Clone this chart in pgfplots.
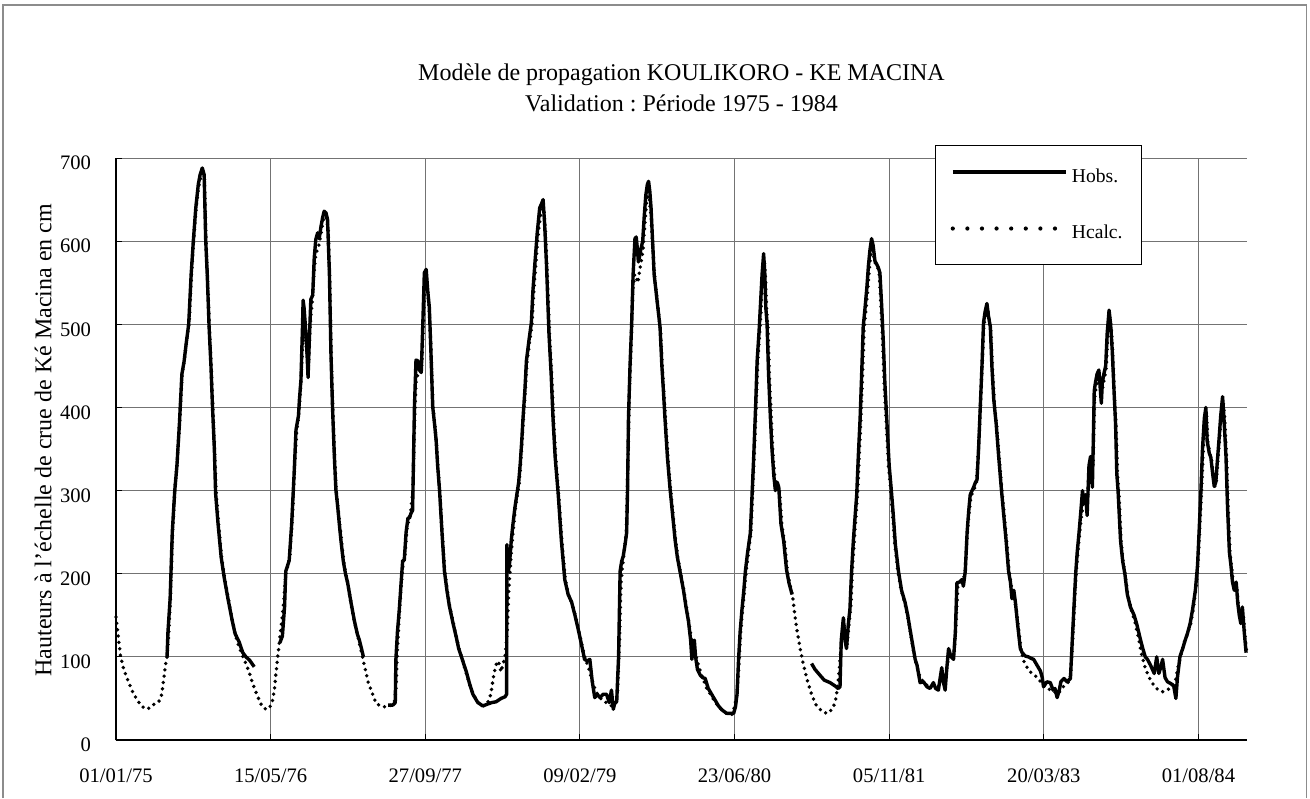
\documentclass[border=0pt]{standalone}
\usepackage{fontspec}
\setmainfont{Liberation Serif}
\usepackage{pgfplots}
\pgfplotsset{compat=1.18}
\frenchspacing
\begin{document}
\begin{tikzpicture}
\path[use as bounding box] (0,0) rectangle (655pt,399pt);
\draw[black!45, line width=0.6pt] (1.5pt,0) -- (1.5pt,396.5pt) -- (653.3pt,396.5pt) -- (653.3pt,0);
\begin{axis}[
 at={(58pt,29pt)}, anchor=south west,
 scale only axis, width=565.5pt, height=291pt,
 xmin=0, xmax=3657, ymin=0, ymax=700,
 axis x line*=bottom, axis y line*=left,
 axis line style={-, line width=1.4pt, black},
 xtick={0,500,...,3500},
 xticklabels={01/01/75,15/05/76,27/09/77,09/02/79,23/06/80,05/11/81,20/03/83,01/08/84},
 ytick={0,100,...,700},
 grid=major, major grid style={black!55, line width=0.5pt},
 tick style={black, line width=0.5pt}, major tick length=3pt, tick align=inside,
 /pgf/number format/assume math mode=true,
 ticklabel style={font=\fontsize{10.3}{12}\selectfont},
 xticklabel style={yshift=-11pt},
 yticklabel style={xshift=-9pt, yshift=-2.5pt},
 every axis y label/.style={at={(axis description cs:-0.0645,0.515)}, rotate=90, anchor=center, font=\fontsize{12}{14}\selectfont},
 ylabel={Hauteurs à l'échelle de crue de Ké Macina en cm},
 legend style={at={(axis description cs:0.7241,1.0223)}, anchor=north west, draw=black, line width=0.6pt, fill=white, font=\fontsize{9.8}{11}\selectfont, inner xsep=7.5pt, inner ysep=9.5pt, row sep=16pt},
 legend cell align=left,
 legend image code/.code={\draw[#1] (0pt,2.5pt) -- (56.5pt,2.5pt);},
 clip=false,
]
% Hcalc
\addplot[forget plot, black, line width=1.9pt, dash pattern=on 0pt off 3.2pt, line cap=round] coordinates {
(0,148) (8,122) (15,100) (25,85) (40,70) (55,57) (70,47) (85,40) (100,37) (115,40) (128,45) (140,47) (148,55) (155,75) (160,90) (165,100) (170,125) (176,170) (183,250) (190,300) (198,335) (206,385) (214,440) (222,460) (230,485) (237,505) (244,560) (251,600) (259,640) (267,665) (273,675) (280,682) (286,675) (291,600) (296,555) (302,495) (308,448) (313,400) (319,348) (324,297) (332,258) (342,218) (352,193) (364,168) (376,143) (387,125) (398,112) (410,100) (420,92) (432,80) (441,69) (452,58) (463,48) (473,40) (485,37) (495,38) (505,45) (512,60) (517,80) (523,100) (528,117) (535,140) (542,165) (549,200) (556,210) (562,220) (570,265) (577,325) (584,370) (592,395) (598,430) (604,480) (610,490) (616,470) (622,450) (628,500) (634,525) (640,560) (646,585) (652,590) (658,598) (664,612) (670,625) (675,630) (680,628) (686,615) (691,555) (696,462) (701,398) (707,340) (712,300) (718,278) (724,258) (729,240) (737,213) (744,198) (751,185) (762,160) (772,140) (782,125) (792,108) (803,90) (815,70) (830,55) (841,44) (860,40) (877,40) (890,42) (900,45) (905,60) (910,110) (916,150) (922,185) (928,210) (935,225) (941,255) (947,265) (953,275) (960,300) (966,390) (970,430) (976,440) (982,440) (988,445) (993,490) (998,540) (1003,556) (1008,540) (1013,515) (1019,465) (1025,400) (1031,378) (1036,358) (1041,328) (1047,298) (1055,248) (1063,203) (1071,180) (1079,160) (1091,140) (1101,123) (1109,110) (1117,100) (1125,90) (1133,80) (1144,66) (1155,55) (1171,45) (1187,41) (1200,43) (1212,55) (1220,75) (1228,90) (1236,95) (1245,82) (1252,92) (1258,100) (1265,130) (1270,180) (1278,225) (1285,255) (1292,280) (1298,295) (1304,310) (1309,335) (1314,365) (1318,390) (1324,425) (1329,455) (1337,478) (1345,500) (1350,535) (1356,565) (1364,605) (1372,630) (1378,638) (1383,640) (1388,615) (1394,565) (1398,525) (1402,485) (1409,436) (1415,385) (1422,338) (1432,292) (1442,238) (1453,192) (1464,174) (1475,164) (1486,148) (1496,132) (1507,113) (1517,98) (1527,88) (1537,75) (1548,62) (1560,53) (1572,48) (1585,45) (1597,42) (1608,40) (1616,45) (1622,60) (1628,120) (1633,190) (1638,210) (1644,230) (1650,250) (1655,330) (1660,420) (1665,470) (1671,540) (1677,560) (1683,555) (1688,550) (1693,565) (1698,575) (1704,590) (1710,620) (1715,645) (1720,655) (1725,650) (1730,630) (1736,590) (1742,555) (1748,535) (1754,515) (1761,490) (1767,445) (1772,415) (1777,385) (1785,338) (1793,302) (1802,268) (1810,238) (1817,218) (1827,198) (1837,178) (1845,158) (1853,140) (1862,118) (1872,105) (1882,92) (1891,80) (1900,72) (1910,62) (1922,55) (1935,47) (1948,40) (1962,35) (1977,31) (1992,31) (2000,40) (2008,55) (2014,90) (2020,130) (2026,157) (2032,180) (2038,205) (2045,225) (2053,250) (2058,295) (2064,345) (2070,405) (2075,455) (2081,488) (2086,520) (2091,555) (2096,578) (2100,555) (2104,515) (2108,495) (2113,435) (2119,383) (2124,345) (2130,315) (2135,300) (2141,305) (2146,298) (2153,258) (2162,237) (2171,203) (2179,187) (2188,172) (2195,150) (2201,134) (2212,110) (2222,92) (2235,72) (2249,55) (2262,43) (2276,37) (2290,33) (2303,32) (2319,39) (2328,50) (2335,69) (2343,105) (2352,147) (2358,125) (2364,115) (2370,140) (2376,160) (2381,205) (2387,240) (2393,272) (2398,298) (2403,342) (2409,390) (2414,442) (2419,495) (2425,518) (2431,543) (2436,568) (2441,585) (2446,590) (2451,580) (2457,570) (2463,568) (2468,560) (2474,518) (2479,478) (2484,428) (2490,385) (2498,330) (2505,300) (2511,272) (2518,236) (2528,204) (2538,181) (2549,167) (2558,152) (2566,136) (2576,112) (2583,98) (2590,88) (2600,75) (2611,70) (2622,66) (2632,64) (2643,66) (2652,64) (2661,65) (2670,75) (2680,72) (2690,95) (2700,100) (2710,105) (2716,140) (2722,185) (2730,190) (2738,192) (2745,200) (2752,245) (2758,272) (2764,292) (2770,298) (2776,303) (2782,310) (2788,345) (2794,392) (2800,445) (2806,498) (2812,512) (2818,520) (2823,505) (2829,492) (2834,445) (2840,405) (2848,376) (2856,338) (2864,302) (2872,270) (2880,238) (2888,202) (2895,185) (2902,172) (2910,160) (2918,135) (2926,110) (2935,95) (2945,88) (2955,82) (2965,80) (2978,75) (2990,70) (3000,65) (3012,62) (3022,60) (3034,58) (3045,55) (3055,60) (3065,65) (3075,68) (3085,72) (3092,110) (3098,155) (3104,198) (3110,225) (3116,250) (3122,270) (3128,285) (3134,290) (3140,285) (3147,325) (3153,340) (3159,330) (3164,410) (3169,425) (3174,432) (3180,440) (3186,415) (3191,425) (3196,435) (3202,448) (3207,488) (3212,512) (3218,495) (3223,465) (3228,415) (3234,375) (3238,320) (3243,295) (3250,238) (3257,212) (3264,196) (3272,173) (3282,157) (3294,143) (3305,125) (3315,105) (3325,90) (3335,80) (3345,72) (3357,65) (3370,60) (3385,58) (3400,60) (3413,65) (3425,70) (3435,90) (3445,105) (3455,118) (3465,128) (3475,140) (3483,157) (3492,182) (3499,215) (3504,255) (3510,300) (3515,345) (3521,385) (3526,395) (3530,360) (3537,343) (3542,338) (3548,318) (3553,305) (3558,312) (3564,342) (3569,365) (3574,392) (3580,408) (3585,385) (3591,338) (3596,278) (3602,224) (3607,208) (3612,190) (3618,178) (3624,185) (3629,162) (3634,148) (3640,140) (3645,150) (3650,128) (3655,108)
};
% Hobs segments
\addplot[forget plot, black, line width=1.7pt, line join=round] coordinates {
(165,100) (168,130) (175,170) (182,250) (190,300) (197,330) (205,380) (213,440) (220,455) (228,480) (235,500) (243,560) (250,600) (258,640) (266,668) (272,680) (279,688) (285,680) (290,602) (295,560) (301,497) (307,450) (312,401) (318,350) (322,297) (330,260) (340,220) (350,195) (362,170) (375,145) (385,128) (398,118) (410,105) (420,100) (432,96) (447,88)
};
\addplot[forget plot, black, line width=1.7pt, line join=round] coordinates {
(530,117) (538,125) (545,160) (549,203) (555,210) (560,216) (568,260) (576,321) (582,373) (590,390) (593,409) (598,433) (603,497) (605,529) (608,520) (612,500) (617,470) (621,436) (625,480) (630,530) (636,535) (641,580) (646,602) (652,610) (657,603) (663,618) (668,628) (673,636) (679,634) (684,626) (690,562) (695,465) (700,401) (706,341) (711,301) (717,280) (722,260) (727,241) (735,215) (742,200) (749,189) (760,165) (771,143) (780,128) (787,120) (795,108) (800,100)
};
\addplot[forget plot, black, line width=1.7pt, line join=round] coordinates {
(880,42) (895,42) (903,45) (905,97) (910,130) (916,157) (922,190) (927,216) (932,216) (938,250) (944,267) (949,267) (954,273) (959,276) (965,401) (970,457) (976,456) (981,445) (987,442) (992,500) (997,562) (1003,566) (1008,540) (1013,521) (1018,470) (1024,401) (1030,380) (1035,361) (1040,330) (1046,301) (1054,250) (1062,203) (1070,180) (1078,161) (1090,140) (1100,124) (1108,110) (1116,101) (1124,92) (1132,83) (1143,68) (1154,55) (1170,45) (1186,41) (1200,43) (1215,45) (1229,46) (1245,50) (1258,52) (1263,55) (1264,235) (1268,203) (1272,210) (1278,240) (1283,258) (1290,280) (1296,295) (1302,310) (1307,332) (1312,360) (1316,387) (1322,420) (1327,456) (1335,480) (1343,502) (1348,540) (1354,571) (1362,610) (1370,640) (1376,645) (1381,650) (1386,620) (1392,571) (1396,530) (1400,488) (1407,440) (1413,387) (1420,340) (1430,295) (1440,240) (1451,193) (1462,175) (1473,166) (1484,150) (1494,134) (1505,115) (1515,97) (1525,95) (1532,97) (1540,70) (1548,51) (1556,55) (1565,51) (1575,55) (1586,55) (1595,45) (1602,60) (1608,37) (1613,45) (1619,46) (1622,74) (1625,100) (1630,203) (1635,215) (1640,221) (1646,235) (1651,249) (1654,300) (1657,387) (1662,450) (1667,497) (1672,560) (1678,603) (1682,605) (1686,590) (1689,575) (1692,580) (1697,590) (1703,600) (1708,630) (1713,655) (1718,668) (1722,672) (1726,660) (1730,640) (1735,600) (1740,560) (1746,540) (1752,520) (1759,497) (1765,450) (1770,420) (1775,387) (1783,340) (1791,304) (1800,270) (1808,240) (1815,220) (1825,200) (1835,180) (1843,160) (1851,143) (1858,120) (1862,97) (1866,118) (1870,120) (1874,100) (1880,85) (1889,78) (1897,75) (1905,74) (1915,62) (1926,55) (1937,48) (1948,41) (1960,36) (1975,32) (1990,32) (1997,32) (2003,40) (2008,55) (2011,80) (2013,97) (2018,130) (2024,157) (2030,180) (2035,203) (2042,225) (2051,249) (2056,290) (2062,341) (2068,400) (2073,456) (2079,490) (2084,525) (2089,560) (2094,585) (2098,560) (2101,520) (2105,502) (2110,440) (2116,387) (2121,350) (2127,318) (2132,300) (2138,310) (2143,304) (2150,260) (2159,239) (2168,205) (2176,189) (2186,175)
};
\addplot[forget plot, black, line width=1.7pt, line join=round] coordinates {
(2249,92) (2260,85) (2276,78) (2290,72) (2309,69) (2325,65) (2335,62) (2341,64) (2345,120) (2352,147) (2357,120) (2362,110) (2368,140) (2373,157) (2378,200) (2384,239) (2390,270) (2395,295) (2400,340) (2406,387) (2411,440) (2416,497) (2422,520) (2428,545) (2433,571) (2438,590) (2443,603) (2448,595) (2454,576) (2460,572) (2465,568) (2470,562) (2476,520) (2481,479) (2486,430) (2492,387) (2500,330) (2507,300) (2513,272) (2520,235) (2530,203) (2540,180) (2551,166) (2560,150) (2567,134) (2578,110) (2584,97) (2590,90) (2600,69) (2611,70) (2622,64) (2632,62) (2643,69) (2650,62) (2659,60) (2665,75) (2670,87) (2675,70) (2681,60) (2686,85) (2692,110) (2700,100) (2708,97) (2714,130) (2719,189) (2727,190) (2735,193) (2740,185) (2746,203) (2752,250) (2757,275) (2762,295) (2768,300) (2773,304) (2779,310) (2784,313) (2789,350) (2794,396) (2800,450) (2805,502) (2810,515) (2816,525) (2821,510) (2827,497) (2832,450) (2838,410) (2846,380) (2854,341) (2862,305) (2870,272) (2878,240) (2886,203) (2892,190) (2897,170) (2903,180) (2908,166) (2915,140) (2924,110) (2930,105) (2940,101) (2950,100) (2960,98) (2967,97) (2978,90) (2989,83) (2995,75) (2999,64) (3010,70) (3021,69) (3030,60) (3036,62) (3043,51) (3050,60) (3055,70) (3065,74) (3075,70) (3086,74) (3092,120) (3097,157) (3103,200) (3108,226) (3114,250) (3119,272) (3125,300) (3130,285) (3135,295) (3140,270) (3146,330) (3151,341) (3157,304) (3160,360) (3163,420) (3167,430) (3172,440) (3178,445) (3183,420) (3186,405) (3189,430) (3194,440) (3200,450) (3205,490) (3211,517) (3216,500) (3221,470) (3227,420) (3232,380) (3236,320) (3240,300) (3248,240) (3255,215) (3262,200) (3270,175) (3280,160) (3292,150) (3300,140) (3313,120) (3320,110) (3328,100) (3335,97) (3345,90) (3357,80) (3365,100) (3372,80) (3380,90) (3384,97) (3392,75) (3400,70) (3410,68) (3420,65) (3427,50) (3432,75) (3440,100) (3449,110) (3457,120) (3465,129) (3473,140) (3481,157) (3490,180) (3497,210) (3502,250) (3508,300) (3513,350) (3519,387) (3524,400) (3528,360) (3535,345) (3540,340) (3546,320) (3551,305) (3556,310) (3562,340) (3567,364) (3572,390) (3578,413) (3582,390) (3589,341) (3594,280) (3600,226) (3605,210) (3610,190) (3616,180) (3622,190) (3627,165) (3632,150) (3637,140) (3642,160) (3648,130) (3654,105)
};
\addlegendimage{black, line width=2.2pt}
\addlegendentry{Hobs.}
\addlegendimage{black, line width=2.1pt, dash pattern=on 0pt off 7.3pt, line cap=round}
\addlegendentry{Hcalc.}
\node[font=\fontsize{12}{14}\selectfont] at (axis description cs:0.5,1.1426) {Modèle de propagation KOULIKORO - KE MACINA};
\node[font=\fontsize{12}{14}\selectfont] at (axis description cs:0.5,1.0945) {Validation : Période 1975 - 1984};
\end{axis}
\end{tikzpicture}
\end{document}
